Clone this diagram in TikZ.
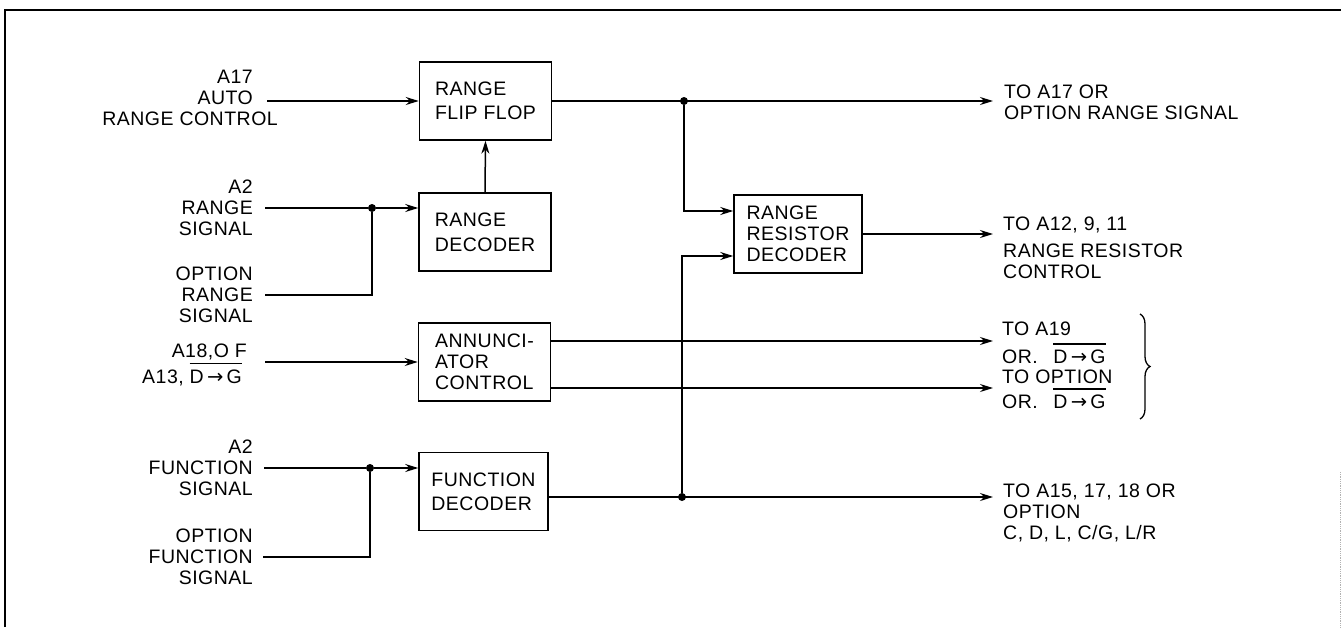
\documentclass[tikz,border=0pt]{standalone}
\usepackage{fontspec}
\setmainfont{Liberation Sans}[LetterSpace=2.5]
\newfontfamily\arrfont{DejaVu Sans}
\usetikzlibrary{arrows.meta,calc,positioning,decorations.pathreplacing}

\newsavebox{\ovlbox}
\newcommand{\ovl}[1]{\sbox{\ovlbox}{#1}\rlap{\raisebox{19pt}[0pt][0pt]{\rule{\wd\ovlbox}{1.4pt}}}\usebox{\ovlbox}}
\newcommand{\dtog}{\ovl{D{\arrfont\,→\,}G}}

\begin{document}
\begin{tikzpicture}[
  x=1pt, y=-1pt,
  font=\fontsize{19.5}{21}\selectfont,
  block/.style={draw, line width=1.5pt, minimum width=132pt, minimum height=78pt, inner sep=0pt, align=left},
  lbl/.style={inner sep=0pt, align=right},
  lblr/.style={inner sep=0pt, align=left},
  sig/.style={-{Stealth[length=13pt,width=8pt]}, line width=1.5pt},
  wire/.style={line width=1.5pt},
  junc/.style={circle, fill, inner sep=0pt, minimum size=8pt},
  frame/.style={line width=1.6pt}
]

\useasboundingbox (0,0) rectangle (1341,627);
\draw[frame] (5,627) -- (5,10) -- (1341,10);
\draw[gray!60, line width=0.8pt, densely dotted] (1340,472) -- (1340,627);

% blocks
\node[block] (rff) at (485.5,101) {RANGE\\[3pt]FLIP FLOP};
\node[block] (rdec) at (485,232) {RANGE\\[4pt]DECODER};
\node[block] (ann) at (484.5,362) {ANNUNCI-\\ATOR\\CONTROL};
\node[block, minimum width=129pt] (fdec) at (483.5,491.5) {FUNCTION\\[3pt]DECODER};
\node[block, minimum width=128pt] (rrd) at (798,234) {RANGE\\RESISTOR\\DECODER};

% junctions
\node[junc] (jrs) at (372,208) {};
\node[junc] (jfs) at (370,468) {};
\node[junc] (jr) at (684,101) {};
\node[junc] (jf) at (682,497) {};

% free ends
\coordinate (inAuto) at (267,101);
\coordinate (inRS) at (265,208);
\coordinate (inOR) at (265,295);
\coordinate (inAnn) at (265,362);
\coordinate (inFS) at (264,468);
\coordinate (inOF) at (263,557);
\coordinate (toA17) at (993,101);
\coordinate (toA12) at (993,234);
\coordinate (toA19) at (993,341);
\coordinate (toOpt) at (993,388);
\coordinate (toA15) at (993,497);

% inputs
\draw[sig] (inAuto) -- (rff.west |- inAuto);
\draw[sig] (rdec.north) -- (rff.south);
\draw[wire] (inRS) -- (jrs);
\draw[sig] (jrs) -- (rdec.west |- jrs);
\draw[wire] (inOR) -| (jrs);
\draw[sig] (inAnn) -- (ann.west |- inAnn);
\draw[wire] (inFS) -- (jfs);
\draw[sig] (jfs) -- (fdec.west |- jfs);
\draw[wire] (inOF) -| (jfs);

% outputs
\draw[sig] (rff.east |- toA17) -- (toA17);
\draw[sig] (jr) |- ($(rrd.west)+(0,-23)$);
\draw[sig] (jf) |- ($(rrd.west)+(0,22)$);
\draw[sig] (rrd.east |- toA12) -- (toA12);
\draw[sig] (ann.east |- toA19) -- (toA19);
\draw[sig] (ann.east |- toOpt) -- (toOpt);
\draw[sig] (fdec.east |- toA15) -- (toA15);

% left labels
\node[lbl, anchor=east] (lauto) at (278,98) {A17\rule{25pt}{0pt}\\AUTO\rule{25pt}{0pt}\\RANGE CONTROL};
\node[lbl, left=12pt of inRS] (lrs) {A2\\RANGE\\SIGNAL};
\node[lbl, left=12pt of inOR] (lor) {OPTION\\RANGE\\SIGNAL};
\node[lbl, anchor=east] (lann) at (247,364.5) {A18,O F\\[5pt]A13, \dtog\rule{5pt}{0pt}};
\node[lbl, left=11pt of inFS] (lfs) {A2\\FUNCTION\\SIGNAL};
\node[lbl, left=10pt of inOF] (lof) {OPTION\\FUNCTION\\SIGNAL};

% right labels
\node[lblr, anchor=west] (ta17) at (1004,102.5) {TO A17 OR\\OPTION RANGE SIGNAL};
\node[lblr, anchor=west] (ta12) at (1003,247.5) {TO A12, 9, 11\\[6pt]RANGE RESISTOR\\CONTROL};
\node[lblr, anchor=west] (ta19) at (1002,365.5) {TO A19\\[7pt]OR.\hspace{0.8em}\dtog\\[-1pt]TO OPTION\\[4pt]OR.\hspace{0.8em}\dtog};
\node[lblr, anchor=west] (ta15) at (1003,512.5) {TO A15, 17, 18 OR\\OPTION\\C, D, L, C/G, L/R};

\coordinate (brt) at (1140,314);
\coordinate (brb) at (1140,419);
\draw[line width=1.3pt, decorate, decoration={brace, amplitude=10pt}] (brt) -- (brb);

\end{tikzpicture}
\end{document}
